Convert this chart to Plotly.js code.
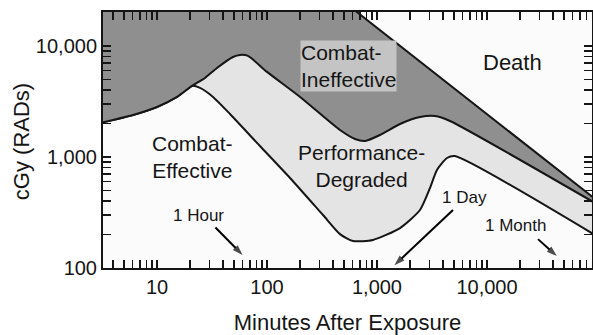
<!DOCTYPE html>
<html>
<head>
<meta charset="utf-8">
<script src="https://cdn.plot.ly/plotly-3.0.1.min.js"></script>
<style>html,body{margin:0;padding:0;background:#fff;}#chart{width:593px;height:335px;}</style>
</head>
<body>
<div id="chart"></div>
<script>
// Boundary between Combat-Effective and Performance-Degraded (minutes, cGy)
const xLower = [3, 6.05, 10, 15.2, 20.8, 24.6, 32.3, 46.1, 86.3, 162, 323, 461, 605, 920, 1620, 2460, 3035, 3510, 4330, 5115, 96000];
const yLower = [2020, 2390, 2820, 3475, 4365, 4190, 3475, 2440, 1256, 647, 300, 202, 175, 179, 229, 333, 526, 764, 979, 1020, 198];
// Boundary between Performance-Degraded and Combat-Ineffective
const xMiddle = [3, 6.05, 10, 15.2, 20.8, 27.3, 35.1, 49.1, 56.9, 67.2, 100, 200, 461, 631, 778, 1065, 1620, 2460, 3370, 4610, 96000];
const yMiddle = [2020, 2390, 2820, 3475, 4365, 5150, 6340, 7960, 8300, 8130, 5840, 3475, 1750, 1453, 1393, 1578, 1983, 2290, 2340, 2110, 385];
// Boundary between Combat-Ineffective and Death
const xUpper = [3, 500, 96000];
const yUpper = [25000, 25000, 419];

// Tick labels
const xMajor = [10, 100, 1000, 10000];
const xMajorText = ['10', '100', '1,000', '10,000'];
const yMajor = [100, 1000, 10000];
const yMajorText = ['100', '1,000', '10,000'];

// Time markers: label text, time in minutes (arrow tip), tip dose, arrow tail (minutes, cGy), label centre (minutes, cGy)
const markerNames = ['1 Hour', '1 Day', '1 Month'];
const markerMinutes = [60, 1440, 43200];
const markerTipDose = [131, 106, 128];
const markerTailMin = [34, 4910, 29100];
const markerTailDose = [232, 333, 182];
const markerLabelMin = [23.6, 6310, 18000];
const markerLabelDose = [300, 428, 239];

function logTicks(lo, hi, majors, majorText) {
  const vals = [], text = [];
  for (let d = 1; d <= 100000; d *= 10) {
    for (let m = 1; m <= 9; m++) {
      const v = m * d;
      if (v < lo || v > hi) continue;
      vals.push(v);
      const i = majors.indexOf(v);
      text.push(i >= 0 ? majorText[i] : '');
    }
  }
  return {vals, text};
}
const xt = logTicks(4, 90000, xMajor, xMajorText);
const yt = logTicks(100, 20000, yMajor, yMajorText);

const FONT = 'Liberation Sans, Arial, Helvetica, sans-serif';
const INK = '#151515';

const traces = [
  {x: xLower, y: yLower, mode: 'lines', line: {color: INK, width: 2, shape: 'spline', smoothing: 0.6}, hoverinfo: 'skip'},
  {x: xMiddle, y: yMiddle, mode: 'lines', fill: 'tonexty', fillcolor: '#e4e4e4', line: {color: INK, width: 2, shape: 'spline', smoothing: 0.6}, hoverinfo: 'skip'},
  {x: xUpper, y: yUpper, mode: 'lines', fill: 'tonexty', fillcolor: '#8f8f8f', line: {color: INK, width: 2}, hoverinfo: 'skip'}
];
// arrows from the time-marker labels to the time axis
for (let i = 0; i < markerNames.length; i++) {
  traces.push({
    x: [markerTailMin[i], markerMinutes[i]], y: [markerTailDose[i], markerTipDose[i]],
    mode: 'lines+markers', line: {color: '#000', width: 2},
    marker: {symbol: ['circle', 'arrow'], size: [0, 11], color: '#000', angleref: 'previous', line: {width: 0}},
    cliponaxis: false, hoverinfo: 'skip'
  });
}

function lab(text, x, y, size, extra) {
  return Object.assign({text: text, x: Math.log10(x), y: Math.log10(y), xref: 'x', yref: 'y', showarrow: false,
    font: {family: FONT, size: size, color: INK}}, extra || {});
}

const annotations = [
  lab('Combat-<br>Effective', 21, 990, 21),
  lab('Combat-<br>Ineffective', 200, 6650, 21, {xanchor: 'left', align: 'left', bgcolor: '#c4c4c4', borderpad: 0}),
  lab('Performance-<br>Degraded', 716, 830, 21),
  lab('Death', 16900, 7030, 22),
  {text: 'cGy (RADs)', textangle: -90, xref: 'paper', yref: 'paper', x: -0.168, y: 0.495,
   xanchor: 'center', yanchor: 'middle', showarrow: false, font: {family: FONT, size: 22, color: INK}}
];
for (let i = 0; i < markerNames.length; i++) {
  annotations.push(lab(markerNames[i], markerLabelMin[i], markerLabelDose[i], 17));
}

const axisCommon = {
  type: 'log', ticks: 'inside', ticklen: 8, tickwidth: 1.5, tickcolor: INK,
  showline: true, linecolor: INK, linewidth: 2, mirror: 'ticks',
  showgrid: false, zeroline: false, tickmode: 'array',
  tickfont: {family: FONT, size: 20, color: INK}
};

const layout = {
  width: 593, height: 335,
  margin: {l: 103, r: 1, t: 12, b: 67},
  paper_bgcolor: '#ffffff', plot_bgcolor: '#fbfbfb',
  showlegend: false,
  font: {family: FONT, color: INK},
  xaxis: Object.assign({}, axisCommon, {range: [0.509, 4.955], tickvals: xt.vals, ticktext: xt.text,
    title: {text: 'Minutes After Exposure', font: {family: FONT, size: 22, color: INK}, standoff: 24}}),
  yaxis: Object.assign({}, axisCommon, {range: [2, 4.306], tickvals: yt.vals, ticktext: yt.text}),
  annotations: annotations
};

Plotly.newPlot('chart', traces, layout, {staticPlot: true, displayModeBar: false});
</script>
</body>
</html>
